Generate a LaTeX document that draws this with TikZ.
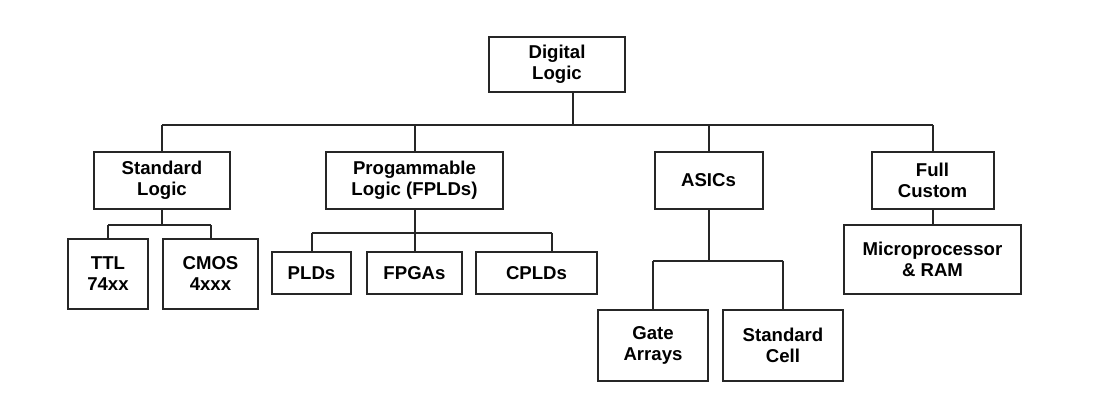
\documentclass[tikz,border=0pt]{standalone}
\usepackage{fontspec}
\setmainfont{Liberation Sans}
\usetikzlibrary{positioning}

\begin{document}
\begin{tikzpicture}[x=0.5pt,y=-0.5pt,
    box/.style={draw=black!85, line width=1pt, align=center, inner sep=2pt,
        font=\fontsize{9.3}{10.5}\selectfont\bfseries},
    link/.style={draw=black!85, line width=1pt}]

        \useasboundingbox (0,0) rectangle (1098,412);

        % Top
        \node[box, minimum width=68pt, minimum height=27.5pt] (digital) at (557,64.5) {Digital\\Logic};

        % Second row
        \node[box, minimum width=68pt, minimum height=28.5pt] (standard) at (162,180.5) {Standard\\Logic};
        \node[box, minimum width=88.5pt, minimum height=28.5pt] (progammable) at (414.5,180.5) {Progammable\\Logic (FPLDs)};
        \node[box, minimum width=54pt, minimum height=28.5pt] (asics) at (708.5,180.5) {ASICs};
        \node[box, minimum width=61pt, minimum height=28.5pt] (fullcustom) at (932.5,180.5) {Full\\Custom};

        % Leaves
        \node[box, minimum width=40.3pt, minimum height=35pt] (ttl) at (108,273.7) {TTL\\74xx};
        \node[box, minimum width=47.3pt, minimum height=35pt] (cmos) at (210.5,273.7) {CMOS\\4xxx};
        \node[box, minimum width=39.8pt, minimum height=20.8pt] (plds) at (311.5,273.2) {PLDs};
        \node[box, minimum width=47.6pt, minimum height=20.8pt] (fpgas) at (414.5,273.2) {FPGAs};
        \node[box, minimum width=60.5pt, minimum height=20.8pt] (cplds) at (536.5,273.2) {CPLDs};
        \node[box, minimum width=54.6pt, minimum height=35.3pt] (gatearrays) at (653,345.3) {Gate\\Arrays};
        \node[box, minimum width=60.2pt, minimum height=35.3pt] (standardcell) at (783,345.3) {Standard\\Cell};
        \node[box, minimum width=88.5pt, minimum height=34.5pt] (micro) at (932.5,259.5) {Microprocessor\\\& RAM};

        % Bus coordinates
        \coordinate (topbus) at (573,125);
        \coordinate (stdbus) at (162,225);
        \coordinate (fplbus) at (414.5,232.7);
        \coordinate (asicbus) at (708.5,260.7);

        % Digital logic to the four families
        \draw[link] ([xshift=8pt]digital.south) -- (topbus);
        \draw[link] (topbus -| standard.north) -- (topbus -| fullcustom.north);
        \foreach \n in {standard,progammable,asics,fullcustom}
            \draw[link] (topbus -| \n.north) -- (\n.north);

        % Standard logic
        \draw[link] (standard.south) -- (stdbus);
        \draw[link] (stdbus -| ttl.north) -- (stdbus -| cmos.north);
        \foreach \n in {ttl,cmos}
            \draw[link] (stdbus -| \n.north) -- (\n.north);

        % Programmable logic
        \draw[link] (progammable.south) -- (fpgas.north);
        \draw[link] (fplbus -| plds.north) -- ([xshift=7.5pt]fplbus -| cplds.north);
        \draw[link] (fplbus -| plds.north) -- (plds.north);
        \draw[link] ([xshift=7.5pt]fplbus -| cplds.north) -- ([xshift=7.5pt]cplds.north);

        % ASICs
        \draw[link] (asics.south) -- (asicbus);
        \draw[link] (asicbus -| gatearrays.north) -- (asicbus -| standardcell.north);
        \foreach \n in {gatearrays,standardcell}
            \draw[link] (asicbus -| \n.north) -- (\n.north);

        % Full custom
        \draw[link] (fullcustom.south) -- (micro.north);

    \end{tikzpicture}
\end{document}
